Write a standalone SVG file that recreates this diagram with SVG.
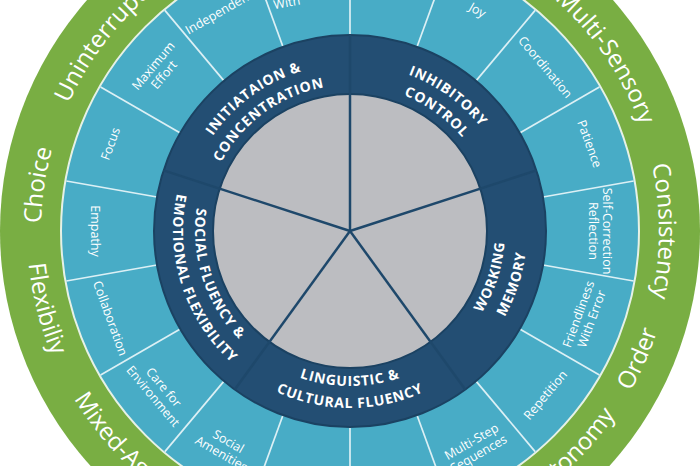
<svg xmlns="http://www.w3.org/2000/svg" width="700" height="466" viewBox="0 0 700 466">
<defs>
<style>
.green{fill:#79ae43}
.blue{fill:#48acc6;stroke:#e6f1e6;stroke-width:2}
.dark{fill:#234e73;stroke:#1b4262;stroke-width:2}
.gray{fill:#bcbdc1;stroke:#1b4262;stroke-width:2}
.div{stroke:#dcf0f5;stroke-width:1.7}
.spoke{stroke:#1e486b;stroke-width:2.5}
.lbl{font-family:"Open Sans","Liberation Sans",sans-serif;font-size:12.5px;fill:#ffffff;text-anchor:middle}
.glbl{font-family:"Open Sans","Liberation Sans",sans-serif;font-size:24px;fill:#ffffff;text-anchor:middle}
.dlbl{font-family:"Open Sans","Liberation Sans",sans-serif;font-weight:700;font-size:14px;fill:#ffffff;letter-spacing:0.8px;text-anchor:middle}
</style>
<path id="gTop" d="M -267.60 -154.50 A 309 309 0 0 1 267.60 -154.50" fill="none"/>
<path id="gBot" d="M -279.73 161.50 A 323 323 0 0 0 279.73 161.50" fill="none"/>
<path id="dTop167" d="M -98.16 -135.11 A 167 167 0 0 1 98.16 -135.11" fill="none"/>
<path id="dTop146" d="M -85.82 -118.12 A 146 146 0 0 1 85.82 -118.12" fill="none"/>
<path id="dBot155" d="M -91.11 125.40 A 155 155 0 0 0 91.11 125.40" fill="none"/>
<path id="dBot177" d="M -104.04 143.20 A 177 177 0 0 0 104.04 143.20" fill="none"/>
<line id="bdiv" x1="196" y1="0" x2="288" y2="0"/>
<line id="pspoke" x1="0" y1="0" x2="196" y2="0"/>
</defs>

<g id="outer-ring">
<circle class="green" cx="350" cy="231" r="350"/>
<circle class="blue" cx="350" cy="231" r="289"/>
</g>

<g id="connectors">
<g class="div" transform="translate(350 231)">
<use href="#bdiv" transform="rotate(-90)"/>
<use href="#bdiv" transform="rotate(-70)"/>
<use href="#bdiv" transform="rotate(-50)"/>
<use href="#bdiv" transform="rotate(-30)"/>
<use href="#bdiv" transform="rotate(-10)"/>
<use href="#bdiv" transform="rotate(10)"/>
<use href="#bdiv" transform="rotate(30)"/>
<use href="#bdiv" transform="rotate(50)"/>
<use href="#bdiv" transform="rotate(70)"/>
<use href="#bdiv" transform="rotate(90)"/>
<use href="#bdiv" transform="rotate(110)"/>
<use href="#bdiv" transform="rotate(130)"/>
<use href="#bdiv" transform="rotate(150)"/>
<use href="#bdiv" transform="rotate(170)"/>
<use href="#bdiv" transform="rotate(190)"/>
<use href="#bdiv" transform="rotate(210)"/>
<use href="#bdiv" transform="rotate(230)"/>
<use href="#bdiv" transform="rotate(250)"/>
</g>
</g>

<g id="core">
<circle class="dark" cx="350" cy="231" r="196"/>
<circle class="gray" cx="350" cy="231" r="137"/>
<g class="spoke" transform="translate(350 231)">
<use href="#pspoke" transform="rotate(-90)"/>
<use href="#pspoke" transform="rotate(-18)"/>
<use href="#pspoke" transform="rotate(54)"/>
<use href="#pspoke" transform="rotate(126)"/>
<use href="#pspoke" transform="rotate(198)"/>
</g>
</g>

<g id="green-labels">
<text class="glbl" transform="translate(350 231) rotate(-81.6)"><textPath href="#gTop" startOffset="50%">Choice</textPath></text>
<text class="glbl" transform="translate(350 231) rotate(-50.7)"><textPath href="#gTop" startOffset="50%">Uninterrupted</textPath></text>
<text class="glbl" transform="translate(350 231) rotate(55.7)"><textPath href="#gTop" startOffset="50%">Multi-Sensory</textPath></text>
<text class="glbl" transform="translate(350 231) rotate(90)"><textPath href="#gTop" startOffset="50%">Consistency</textPath></text>
<text class="glbl" transform="translate(350 231) rotate(-66.1)"><textPath href="#gBot" startOffset="50%">Order</textPath></text>
<text class="glbl" transform="translate(350 231) rotate(-45)"><textPath href="#gBot" startOffset="50%">Autonomy</textPath></text>
<text class="glbl" transform="translate(350 231) rotate(48.3)"><textPath href="#gBot" startOffset="50%">Mixed-Age</textPath></text>
<text class="glbl" transform="translate(350 231) rotate(75.7)"><textPath href="#gBot" startOffset="50%">Flexibiliy</textPath></text>
</g>

<g id="blue-labels">
<text class="lbl" transform="translate(350 231) rotate(-60) translate(255 0) rotate(90)" dy=".35em">Joy</text>
<text class="lbl" transform="translate(350 231) rotate(-40) translate(255 0) rotate(90)" dy=".35em">Coordination</text>
<text class="lbl" transform="translate(350 231) rotate(-20) translate(255 0) rotate(90)" dy=".35em">Patience</text>
<text class="lbl" transform="translate(350 231) rotate(0) translate(250 0) rotate(90)"><tspan x="0" y="-2.6">Self-Correction</tspan><tspan x="0" y="11.4">Reflection</tspan></text>
<text class="lbl" transform="translate(350 231) rotate(20) translate(250 0) rotate(-90)"><tspan x="0" y="-2.6">Friendliness</tspan><tspan x="0" y="11.4">With Error</tspan></text>
<text class="lbl" transform="translate(350 231) rotate(40) translate(255 0) rotate(-90)" dy=".35em">Repetition</text>
<text class="lbl" transform="translate(350 231) rotate(60) translate(250 0) rotate(-90)"><tspan x="0" y="-2.6">Multi-Step</tspan><tspan x="0" y="11.4">Sequences</tspan></text>
<text class="lbl" transform="translate(350 231) rotate(120) translate(250 0) rotate(-90)"><tspan x="0" y="-2.6">Social</tspan><tspan x="0" y="11.4">Amenities</tspan></text>
<text class="lbl" transform="translate(350 231) rotate(140) translate(250 0) rotate(-90)"><tspan x="0" y="-2.6">Care for</tspan><tspan x="0" y="11.4">Environment</tspan></text>
<text class="lbl" transform="translate(350 231) rotate(160) translate(255 0) rotate(-90)" dy=".35em">Collaboration</text>
<text class="lbl" transform="translate(350 231) rotate(180) translate(255 0) rotate(-90)" dy=".35em">Empathy</text>
<text class="lbl" transform="translate(350 231) rotate(-160) translate(255 0) rotate(90)" dy=".35em">Focus</text>
<text class="lbl" transform="translate(350 231) rotate(-140) translate(250 0) rotate(90)"><tspan x="0" y="-2.6">Maximum</tspan><tspan x="0" y="11.4">Effort</tspan></text>
<text class="lbl" transform="translate(350 231) rotate(-120) translate(255 0) rotate(90)" dy=".35em">Independence</text>
<text class="lbl" transform="translate(350 231) rotate(-100) translate(236 0) rotate(90)" x="-36" dy=".35em" style="text-anchor:start">With</text>
</g>

<g id="initiation">
<text class="dlbl" transform="translate(350 231) rotate(-36)"><textPath href="#dTop167" startOffset="50%">INITIATAION &amp;</textPath></text>
<text class="dlbl" transform="translate(350 231) rotate(-36)"><textPath href="#dTop146" startOffset="50%">CONCENTRATION</textPath></text>
</g>
<g id="inhibitory">
<text class="dlbl" transform="translate(350 231) rotate(36)"><textPath href="#dTop167" startOffset="50%">INHIBITORY</textPath></text>
<text class="dlbl" transform="translate(350 231) rotate(36)"><textPath href="#dTop146" startOffset="50%">CONTROL</textPath></text>
</g>
<g id="working">
<text class="dlbl" transform="translate(350 231) rotate(-72)"><textPath href="#dBot155" startOffset="50%">WORKING</textPath></text>
<text class="dlbl" transform="translate(350 231) rotate(-72)"><textPath href="#dBot177" startOffset="50%">MEMORY</textPath></text>
</g>
<g id="linguistic">
<text class="dlbl" transform="translate(350 231)"><textPath href="#dBot155" startOffset="50%">LINGUISTIC &amp;</textPath></text>
<text class="dlbl" transform="translate(350 231)"><textPath href="#dBot177" startOffset="50%">CULTURAL FLUENCY</textPath></text>
</g>
<g id="social">
<text class="dlbl" transform="translate(350 231) rotate(72)"><textPath href="#dBot155" startOffset="50%">SOCIAL FLUENCY &amp;</textPath></text>
<text class="dlbl" transform="translate(350 231) rotate(72)"><textPath href="#dBot177" startOffset="50%">EMOTIONAL FLEXIBILITY</textPath></text>
</g>
</svg>
